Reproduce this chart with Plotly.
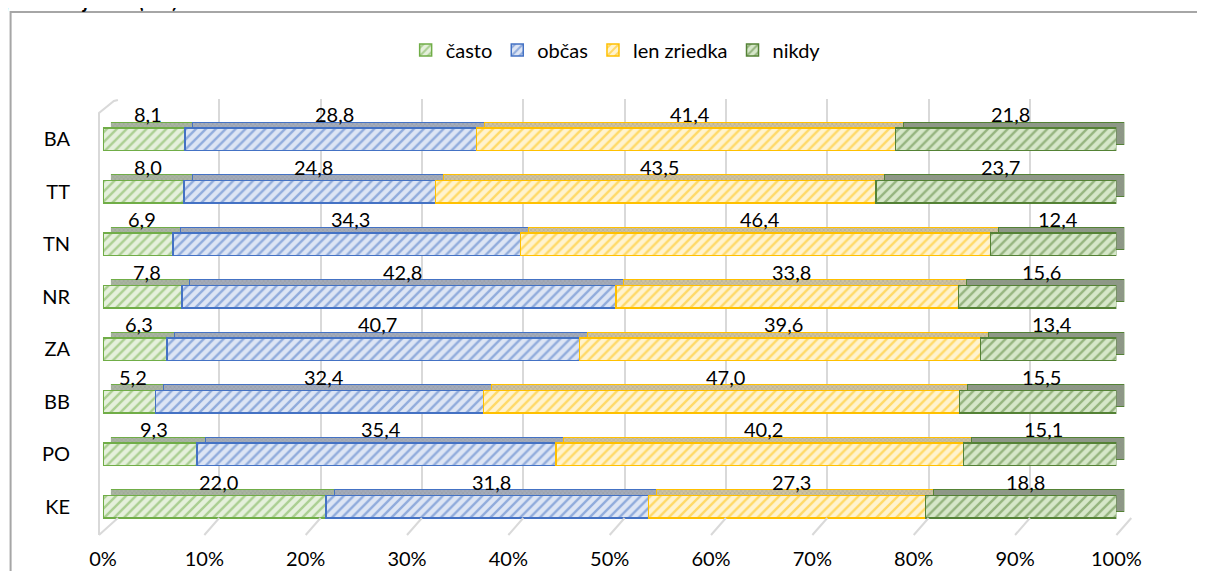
import plotly.graph_objects as go

# okno 1205x579, telo stránky má okraj 8 px
OX, OY = 8, 8
W, H = 1205 - 2 * OX, 579 - 2 * OY
# vodorovná korekcia zobrazenia (zmerané z výstupu)
SX, BX = 0.9735, 12.7

regions = ["BA", "TT", "TN", "NR", "ZA", "BB", "PO", "KE"]
series = ["často", "občas", "len zriedka", "nikdy"]
casto = [8.1, 8.0, 6.9, 7.8, 6.3, 5.2, 9.3, 22.0]
obcas = [28.8, 24.8, 34.3, 42.8, 40.7, 32.4, 35.4, 31.8]
len_zriedka = [41.4, 43.5, 46.4, 33.8, 39.6, 47.0, 40.2, 27.3]
nikdy = [21.8, 23.7, 12.4, 15.6, 13.4, 15.5, 15.1, 18.8]
values = [casto, obcas, len_zriedka, nikdy]
x_ticks = list(range(0, 101, 10))

# farby: obrys/šrafa, svetlé pozadie, horná plocha
line_colors = ["#70AD47", "#4472C4", "#FFC000", "#548235"]
face_colors = ["#E5F0DC", "#DDE5F4", "#FFF3CF", "#D6E7C9"]
top_colors = ["#A9B5A0", "#A3ABBB", "#CFC39F", "#8E9986"]


def px_x(p):
    # pixel okna -> súradnica papiera
    return ((p - BX) / SX - OX) / W


def px_y(p):
    return 1 - (p - OY) / H


FONT = "Lato"
FS = 20
fig = go.Figure()

# prázdna stopa pre zadnú stenu s mriežkou
fig.add_trace(go.Scatter(x=[], y=[], xaxis="x", yaxis="y", showlegend=False, hoverinfo="skip"))

# horné plochy (3D efekt)
for name, vals, lc, tc in zip(series, values, line_colors, top_colors):
    fig.add_trace(go.Bar(
        y=regions, x=vals, orientation="h", xaxis="x2", yaxis="y2",
        width=0.42, showlegend=False, hoverinfo="skip",
        marker=dict(color=tc, line=dict(color=lc, width=1),
                    pattern=dict(shape="x", fgcolor="#8a8a8a", size=3, solidity=0.3)),
    ))

# predné plochy
for name, vals, lc, fc in zip(series, values, line_colors, face_colors):
    fig.add_trace(go.Bar(
        y=regions, x=vals, orientation="h", xaxis="x3", yaxis="y3",
        width=0.42, name=name,
        marker=dict(color=fc, line=dict(color=lc, width=1.5),
                    pattern=dict(shape="/", fgcolor=lc, bgcolor=fc, size=7, solidity=0.35)),
    ))

# popisky hodnôt nad segmentmi
annotations = []
for i, reg in enumerate(regions):
    total = sum(v[i] for v in values)
    start = 0
    for vals in values:
        v = vals[i]
        center = (start + v / 2) / total * 100
        start += v
        annotations.append(dict(
            x=center, y=reg, xref="x3", yref="y3", text=f"{v:.1f}".replace(".", ","),
            showarrow=False, yshift=25, xshift=4, font=dict(size=FS, color="black", family=FONT),
        ))

# orezaný nadpis nad grafom
annotations.append(dict(
    x=px_x(0), y=1, xref="paper", yref="paper", xanchor="left", yanchor="bottom",
    yshift=-6, text="<b><i>podľa krajov SR (v %)</i></b>", showarrow=False,
    font=dict(size=20, color="black", family=FONT),
))

# podlaha a bočná stena
shapes = []
for t in x_ticks:
    fx = 102 + 10.2 * t if t > 0 else 98
    bx = 117 + 10.2 * t
    shapes.append(dict(type="line", xref="paper", yref="paper",
                       x0=px_x(fx), y0=px_y(535), x1=px_x(bx), y1=px_y(518),
                       line=dict(color="#D9D9D9", width=2)))
shapes.append(dict(type="path", xref="paper", yref="paper",
                   path=f"M {px_x(98)},{px_y(535)} L {px_x(98)},{px_y(113)} L {px_x(113)},{px_y(101)} L {px_x(117)},{px_y(100)}",
                   line=dict(color="#D9D9D9", width=2)))
# rámček grafu
shapes.append(dict(type="rect", xref="paper", yref="paper",
                   x0=px_x(9), x1=1.05, y0=-0.03, y1=px_y(12),
                   line=dict(color="#A6A6A6", width=2)))

fig.update_layout(
    width=W, height=H,
    margin=dict(l=0, r=0, t=0, b=0),
    paper_bgcolor="white", plot_bgcolor="rgba(0,0,0,0)",
    barmode="stack", barnorm="percent",
    font=dict(family=FONT, size=FS, color="black"),
    showlegend=True,
    legend=dict(orientation="h", x=px_x(618), xanchor="center", y=px_y(50), yanchor="middle",
                font=dict(size=FS, family=FONT), traceorder="normal"),
    annotations=annotations,
    shapes=shapes,
    xaxis=dict(domain=[px_x(117), px_x(1137)], range=[0, 100], dtick=10, showgrid=True,
               gridcolor="#D9D9D9", gridwidth=2, showticklabels=False, zeroline=False,
               anchor="y", fixedrange=True),
    yaxis=dict(domain=[px_y(518), px_y(99)], range=[0, 1], visible=False, anchor="x"),
    xaxis2=dict(domain=[px_x(110), px_x(1130)], range=[0, 100], visible=False, anchor="y2"),
    yaxis2=dict(domain=[px_y(527), px_y(107)], range=[7.5, -0.5], visible=False, anchor="x2",
                categoryorder="array", categoryarray=regions),
    xaxis3=dict(domain=[px_x(102), px_x(1122)], range=[0, 100], tickvals=x_ticks,
                ticktext=[f"{t}%" for t in x_ticks], showgrid=False, zeroline=False,
                showline=False, ticks="", anchor="y3", ticklabelstandoff=12),
    yaxis3=dict(domain=[px_y(533), px_y(113)], range=[7.5, -0.5], showgrid=False,
                showline=False, ticks="", anchor="x3", categoryorder="array",
                categoryarray=regions, ticklabelstandoff=32),
)

fig.write_html("out.html")
